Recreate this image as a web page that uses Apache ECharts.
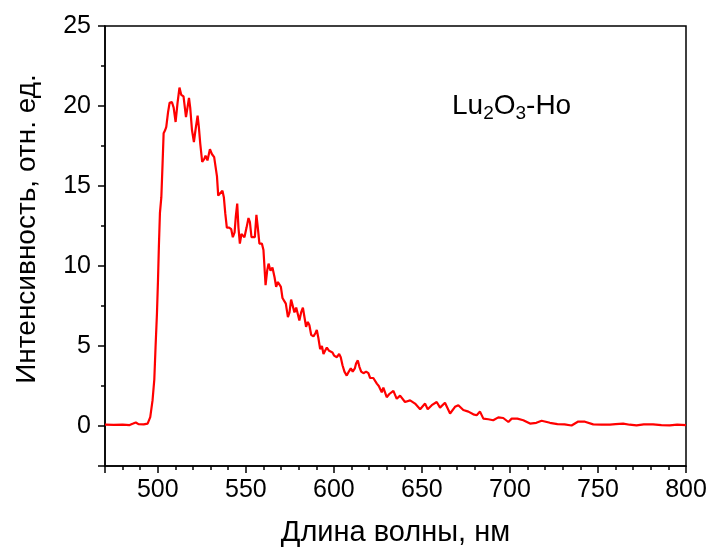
<!DOCTYPE html>
<html>
<head>
<meta charset="utf-8">
<script src="https://cdn.jsdelivr.net/npm/echarts@6/dist/echarts.min.js"></script>
<style>
  html, body { margin: 0; padding: 0; background: #fff; }
  #chart { width: 710px; height: 547px; }
</style>
</head>
<body>
<div id="chart"></div>
<script>
// spectrum
const wavelength = [
  470, 475, 480, 484, 486, 487.5, 489, 492, 494.2, 495.7,
  497, 498, 498.7, 499.5, 500.1, 500.6, 501.2, 502, 502.7, 503.3,
  504.2, 504.8, 505.8, 506.7, 508, 509, 510.1, 511.2, 512.3, 513.3,
  514.6, 516, 517.7, 518.4, 519.4, 520.5, 521.4, 522.6, 523.3, 524.1,
  525.2, 526.4, 527.1, 528.2, 529.6, 530.7, 532, 533.6, 534.3, 535.4,
  536.7, 537.5, 538.3, 539.2, 540.5, 541.7, 542.6, 543.6, 544.3, 545.1,
  545.8, 546.6, 547.5, 548.5, 549.2, 550.4, 551.5, 552.3, 553.2, 554.3,
  555.1, 556, 556.8, 557.7, 559.1, 560, 561.2, 562.1, 562.9, 564,
  565.1, 566.3, 567.2, 568.2, 569.1, 569.9, 570.8, 571.8, 572.7, 573.9,
  574.8, 575.7, 576.7, 577.6, 578.6, 579.5, 580.4, 581.4, 582.4, 583.3,
  584.2, 585.2, 586.1, 587.1, 588.4, 589.5, 590.3, 591.2, 592.2, 593.2,
  594.1, 595, 596, 597.3, 598.4, 599.2, 600.1, 601.7, 603, 603.9,
  604.9, 606, 607.3, 608.5, 609.6, 610.7, 611.9, 612.6, 613.6, 614.5,
  615.5, 616.8, 618.3, 619.6, 620.6, 621.5, 622.4, 624.4, 625.5, 627.2,
  628.1, 630, 631.5, 633.8, 635.7, 637.6, 640.4, 643.3, 646.1, 649,
  651.8, 653.3, 655.6, 658.4, 660.3, 663.1, 666, 668.8, 670.7, 673.5,
  676.4, 679.2, 681.1, 683, 684.9, 687.7, 690.5, 693.4, 696.2, 699.1,
  701, 704.2, 707.6, 711.4, 715, 718, 722.7, 727, 731, 735,
  738.8, 742.6, 747.3, 752, 756.8, 760, 764.3, 768, 771.9, 776,
  781.3, 786, 790.8, 795, 800
];
const intensity = [
  0.08, 0.07, 0.08, 0.06, 0.15, 0.22, 0.12, 0.1, 0.15, 0.56,
  1.6, 2.9, 4.9, 7.0, 9.1, 11.2, 13.3, 14.3, 16.4, 18.3,
  18.5, 18.7, 19.6, 20.2, 20.25, 19.9, 19.0, 20.2, 21.15, 20.7,
  20.6, 19.3, 20.5, 19.9, 18.5, 17.75, 18.5, 19.4, 18.7, 17.65,
  16.5, 16.7, 16.9, 16.6, 17.3, 17.0, 16.8, 15.6, 14.4, 14.5,
  14.7, 14.3, 13.3, 12.4, 12.4, 12.3, 11.8, 12.1, 13.1, 13.9,
  12.4, 11.4, 12.0, 12.1, 11.8, 12.4, 13.0, 12.75, 11.8, 11.8,
  11.8, 13.2, 12.4, 11.4, 11.4, 11.0, 8.8, 9.7, 10.15, 9.7,
  9.9, 9.3, 8.7, 9.0, 9.1, 8.7, 8.0, 8.0, 7.65, 6.8,
  7.1, 7.9, 8.0, 7.1, 7.4, 7.0, 6.6, 7.1, 7.4, 6.8,
  6.2, 6.5, 6.3, 5.7, 5.6, 5.8, 6.0, 5.5, 4.8, 5.0,
  4.5, 4.7, 4.9, 4.7, 4.8, 4.6, 4.4, 4.3, 4.5, 4.3,
  3.8, 3.4, 3.15, 3.4, 3.6, 3.4, 3.6, 3.9, 4.1, 3.7,
  3.4, 3.3, 3.4, 3.3, 3.0, 2.95, 3.0, 2.65, 2.5, 2.1,
  2.4, 1.8, 2.0, 2.2, 1.7, 1.9, 1.5, 1.6, 1.4, 1.05,
  1.4, 1.05, 1.3, 1.5, 1.15, 1.45, 0.78, 1.2, 1.3, 1.0,
  0.9, 0.73, 0.67, 0.9, 0.46, 0.42, 0.36, 0.54, 0.5, 0.25,
  0.46, 0.46, 0.36, 0.15, 0.2, 0.33, 0.2, 0.12, 0.1, 0.03,
  0.28, 0.27, 0.1, 0.08, 0.09, 0.12, 0.15, 0.08, 0.04, 0.1,
  0.1, 0.05, 0.04, 0.08, 0.06
];

const xTicks = [500, 550, 600, 650, 700, 750, 800];
const yTicks = [0, 5, 10, 15, 20, 25];

const font = "'Liberation Sans', Arial, sans-serif";
const chart = echarts.init(document.getElementById("chart"));

const tickStyle = { color: "#000", width: 1.5 };
const axisLine = { show: true, onZero: false, lineStyle: { color: "#000", width: 1.5 } };

const option = {
  animation: false,
  backgroundColor: "#fff",
  grid: {
    left: 105, right: 24, top: 26, bottom: 81,
    outerBoundsMode: "none",
    show: true, borderColor: "#000", borderWidth: 1.5
  },
  xAxis: [
    {
      type: "value", min: 470, max: 800,
      name: "Длина волны, нм", nameLocation: "middle", nameGap: 52,
      nameTextStyle: { fontFamily: font, fontSize: 29, color: "#000" },
      axisLine: axisLine,
      axisTick: { show: true, length: 7, lineStyle: tickStyle },
      axisLabel: {
        margin: 12, fontFamily: font, fontSize: 25, color: "#000",
        formatter: (v) => (xTicks.includes(v) ? String(v) : "")
      },
      splitLine: { show: false }
    },
    {
      type: "value", min: 470, max: 800, interval: 10, position: "bottom",
      axisLine: { show: false, onZero: false },
      axisTick: { show: true, length: 4, lineStyle: tickStyle },
      axisLabel: { show: false },
      splitLine: { show: false }
    }
  ],
  yAxis: [
    {
      type: "value", min: -2.5, max: 25,
      name: "Интенсивность, отн. ед.", nameLocation: "middle", nameGap: 64,
      nameTextStyle: { fontFamily: font, fontSize: 28, color: "#000", padding: [0, 0, 0, 34] },
      axisLine: axisLine,
      axisTick: { show: true, length: 7, lineStyle: tickStyle },
      axisLabel: {
        margin: 14, fontFamily: font, fontSize: 25, color: "#000",
        formatter: (v) => (yTicks.includes(v) ? String(v) : "")
      },
      splitLine: { show: false }
    },
    {
      type: "value", min: -2.5, max: 25, interval: 2.5, position: "left",
      axisLine: { show: false, onZero: false },
      axisTick: { show: true, length: 4, lineStyle: tickStyle },
      axisLabel: { show: false },
      splitLine: { show: false }
    }
  ],
  graphic: [
    {
      type: "text", left: 452, top: 90,
      style: {
        text: "{m|Lu}{s|2}{m|O}{s|3}{m|-Ho}",
        rich: {
          m: { fontFamily: font, fontSize: 28, color: "#000", lineHeight: 32 },
          s: { fontFamily: font, fontSize: 19, color: "#000", lineHeight: 19, padding: [14, 0, 0, 0] }
        }
      }
    }
  ],
  series: [
    {
      type: "line",
      xAxisIndex: 0, yAxisIndex: 0,
      data: wavelength.map((w, i) => [w, intensity[i]]),
      showSymbol: false,
      lineStyle: { color: "#ff0000", width: 2.2 },
      itemStyle: { color: "#ff0000" }
    }
  ]
};

chart.setOption(option);
</script>
</body>
</html>
